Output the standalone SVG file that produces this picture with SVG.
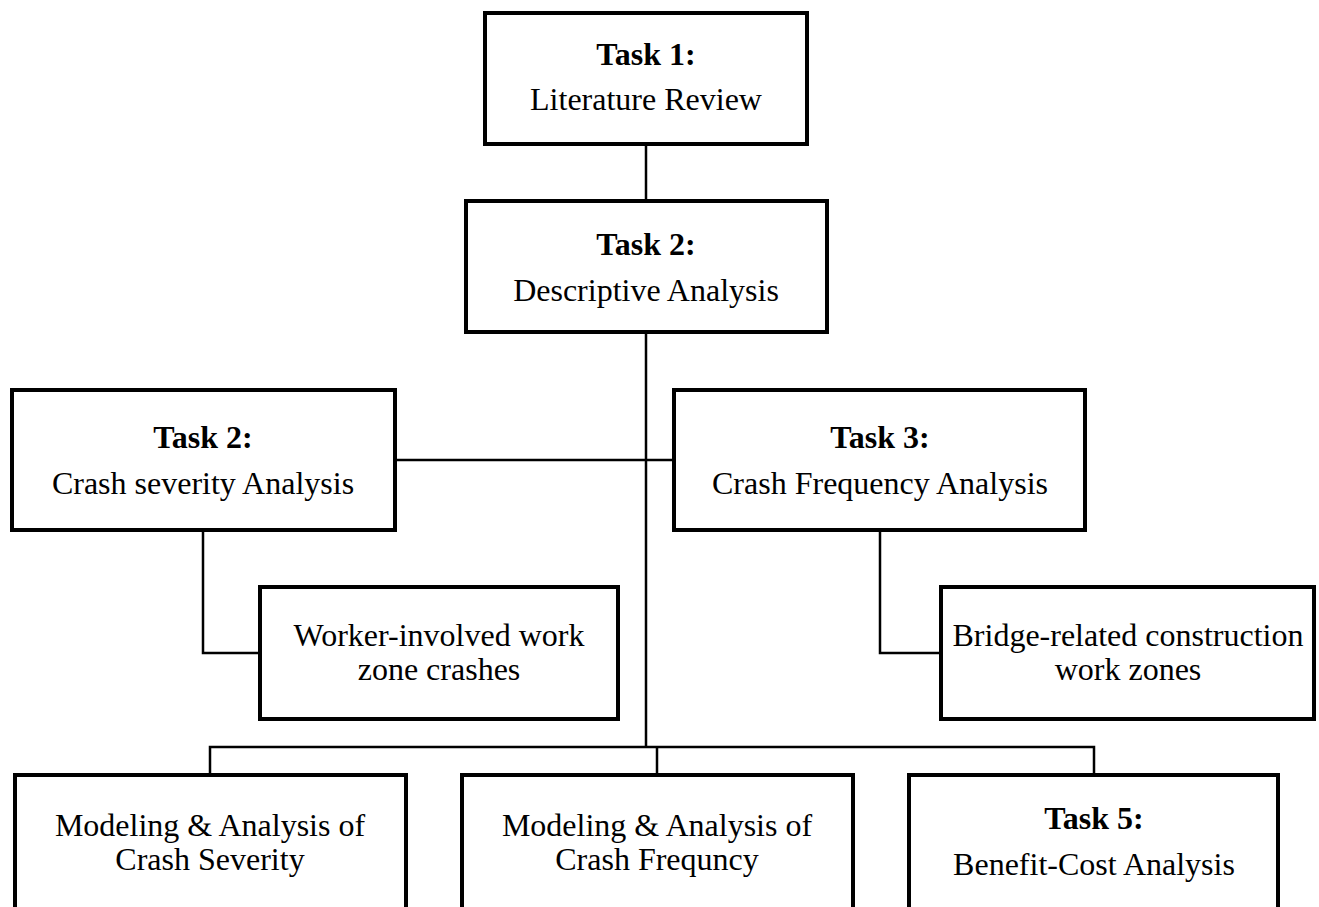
<svg xmlns="http://www.w3.org/2000/svg" width="1319" height="907" viewBox="0 0 1319 907">
<style>
.box{fill:#fff;stroke:#000;stroke-width:4}
.con{fill:none;stroke:#000;stroke-width:2.5}
text{font-family:"Liberation Serif","Times New Roman",serif;font-size:32px;fill:#000;text-anchor:middle}
.b{font-weight:bold}
</style>
<rect width="1319" height="907" fill="#fff"/>
<g id="connectors">
<line class="con" x1="646" y1="145" x2="646" y2="201"/>
<line class="con" x1="646" y1="333" x2="646" y2="747"/>
<line class="con" x1="395" y1="460" x2="673" y2="460"/>
<polyline class="con" points="203,530 203,653 260,653"/>
<polyline class="con" points="880,530 880,653 941,653"/>
<polyline class="con" points="210,774 210,747 1094,747 1094,774"/>
<line class="con" x1="657" y1="747" x2="657" y2="774"/>
</g>
<g id="task1">
<rect class="box" x="485" y="13" width="322" height="131"/>
<text class="b" x="646" y="65">Task 1:</text>
<text x="646" y="110">Literature Review</text>
</g>
<g id="task2-desc">
<rect class="box" x="466" y="201" width="361" height="131"/>
<text class="b" x="646" y="255">Task 2:</text>
<text x="646" y="301">Descriptive Analysis</text>
</g>
<g id="task2-severity">
<rect class="box" x="12" y="390" width="383" height="140"/>
<text class="b" x="203" y="448">Task 2:</text>
<text x="203" y="494">Crash severity Analysis</text>
</g>
<g id="task3">
<rect class="box" x="674" y="390" width="411" height="140"/>
<text class="b" x="880" y="448">Task 3:</text>
<text x="880" y="494">Crash Frequency Analysis</text>
</g>
<g id="worker">
<rect class="box" x="260" y="587" width="358" height="132"/>
<text x="439" y="646">Worker-involved work</text>
<text x="439" y="680">zone crashes</text>
</g>
<g id="bridge">
<rect class="box" x="941" y="587" width="373" height="132"/>
<text x="1128" y="646">Bridge-related construction</text>
<text x="1128" y="680">work zones</text>
</g>
<g id="model-severity">
<rect class="box" x="15" y="775" width="391" height="140"/>
<text x="210" y="836">Modeling &amp; Analysis of</text>
<text x="210" y="870">Crash Severity</text>
</g>
<g id="model-frequency">
<rect class="box" x="462" y="775" width="391" height="140"/>
<text x="657" y="836">Modeling &amp; Analysis of</text>
<text x="657" y="870">Crash Frequncy</text>
</g>
<g id="task5">
<rect class="box" x="909" y="775" width="369" height="140"/>
<text class="b" x="1094" y="829">Task 5:</text>
<text x="1094" y="875">Benefit-Cost Analysis</text>
</g>
</svg>
